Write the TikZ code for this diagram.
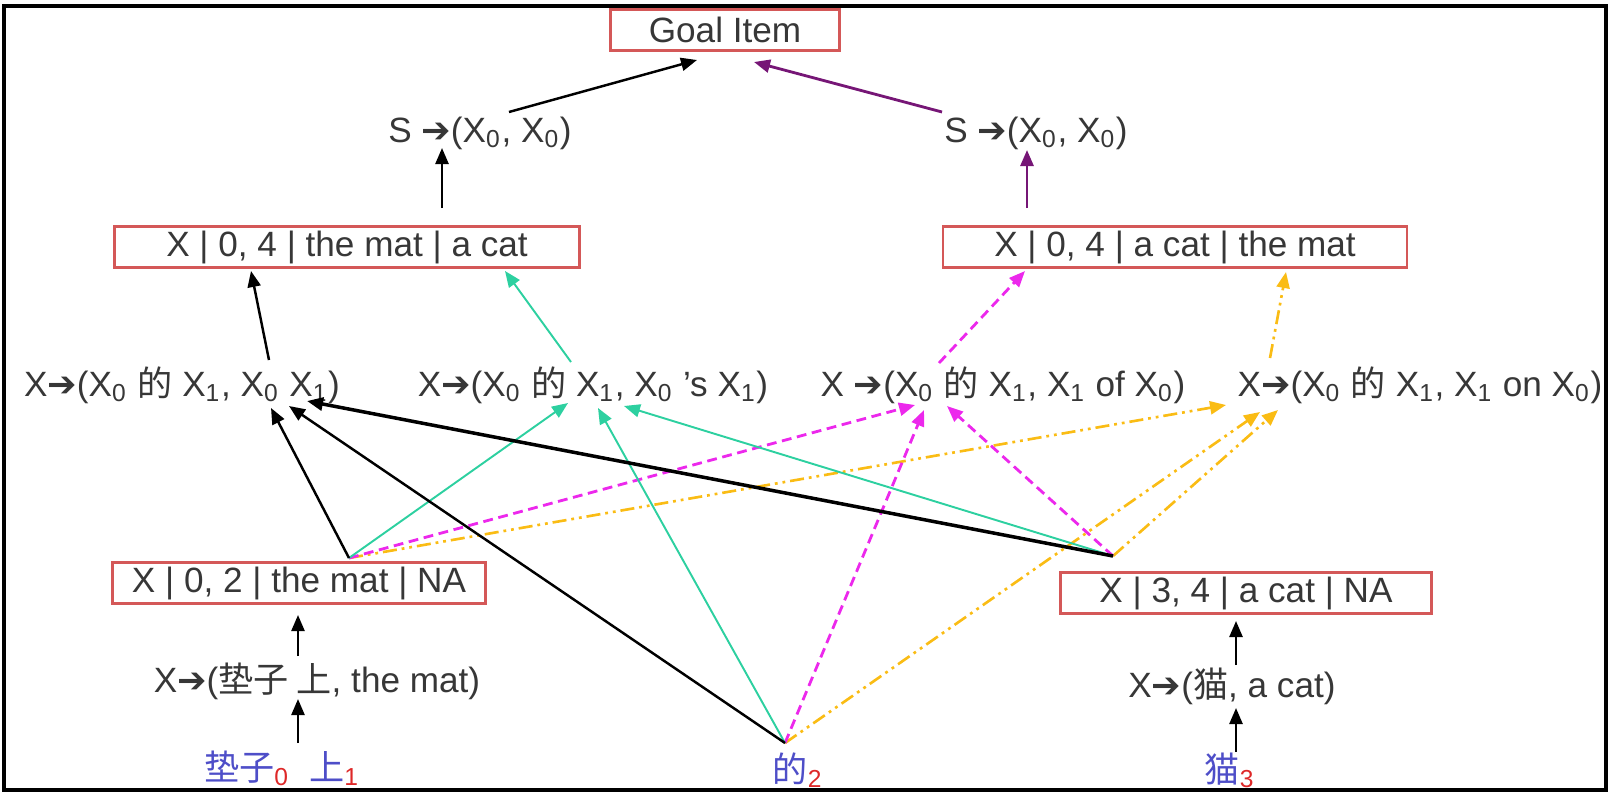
\documentclass[tikz,border=0pt]{standalone}
\usepackage{fontspec}
\setmainfont{Liberation Sans}
\newfontfamily\cjk{Noto Sans CJK SC}
\newfontfamily\djv{DejaVu Sans}
\usetikzlibrary{arrows.meta}

\definecolor{boxred}{RGB}{212,88,88}
\definecolor{txtgray}{RGB}{55,55,55}
\definecolor{mint}{RGB}{45,208,160}
\definecolor{magen}{RGB}{236,40,236}
\definecolor{amber}{RGB}{250,188,20}
\definecolor{plum}{RGB}{118,22,118}
\definecolor{wordblue}{RGB}{78,78,200}
\definecolor{idxred}{RGB}{222,40,40}

\newcommand{\rto}{{\djv ➔}}
\newcommand{\sbs}[1]{\textsubscript{#1}}
\newcommand{\de}{{\cjk 的}}
\newcommand{\srcword}[2]{{\color{wordblue}\cjk #1}\textsubscript{\color{idxred}#2}}

\begin{document}
\begin{tikzpicture}[x=0.1mm,y=-0.1mm,
  txt/.style={text=txtgray,font=\fontsize{10}{12}\selectfont,inner sep=1pt},
  item/.style={txt,draw=boxred,line width=0.6pt,minimum height=4.1mm,inner sep=0pt},
  hd/.style={-{Triangle[length=1.6mm,width=1.3mm]}},
  lk/.style={hd,draw=black,line width=0.7pt},
  lkb/.style={hd,draw=black,line width=1.0pt},
  lt/.style={hd,draw=mint,line width=0.55pt},
  lm/.style={hd,draw=magen,line width=0.8pt,dash pattern=on 2.8pt off 1.6pt},
  ly/.style={hd,draw=amber,line width=0.75pt,dash pattern=on 4pt off 1.4pt on 0.8pt off 1.4pt on 0.8pt off 1.4pt},
  lp/.style={hd,draw=plum,line width=0.8pt}]
  \useasboundingbox (0,0) rectangle (1610,793);
  \draw[line width=0.9pt] (4,6) rectangle (1606,790);
  % ---------- items and rules ----------
  \node[item,minimum width=22.9mm] (goal) at (725,30) {Goal Item};
  \node[txt] (sL) at (480,133) {S \rto(X\sbs{0}, X\sbs{0})};
  \node[txt] (sR) at (1036,133) {S \rto(X\sbs{0}, X\sbs{0})};
  \node[item,minimum width=46.5mm] (b04L) at (347,247) {X | 0, 4 | the mat | a cat};
  \node[item,minimum width=46.4mm] (b04R) at (1175,247) {X | 0, 4 | a cat | the mat};
  \node[txt] (r1) at (182,385) {X\rto(X\sbs{0} \de{} X\sbs{1}, X\sbs{0} X\sbs{1})};
  \node[txt] (r2) at (593,385) {X\rto(X\sbs{0} \de{} X\sbs{1}, X\sbs{0} 's X\sbs{1})};
  \node[txt] (r3) at (1003,385) {X \rto(X\sbs{0} \de{} X\sbs{1}, X\sbs{1} of X\sbs{0})};
  \node[txt] (r4) at (1420,385) {X\rto(X\sbs{0} \de{} X\sbs{1}, X\sbs{1} on X\sbs{0})};
  \node[item,minimum width=37.3mm] (b02) at (299,583) {X | 0, 2 | the mat | NA};
  \node[item,minimum width=37.1mm] (b34) at (1246,593) {X | 3, 4 | a cat | NA};
  \node[txt] (rm) at (317,681) {X\rto({\cjk 垫子 上}, the mat)};
  \node[txt] (rc) at (1232,686) {X\rto({\cjk 猫}, a cat)};
  \node[txt] (w01) at (282,768) {\srcword{垫子}{0}\ \ \srcword{上}{1}};
  \node[txt] (w2) at (798,770) {\srcword{的}{2}};
  \node[txt] (w3) at (1230,770) {\srcword{猫}{3}};
  % ---------- end points ----------
  \coordinate (p02) at (349,558);
  \coordinate (p2) at (785,743);
  \coordinate (p34) at (1113,556);
  \coordinate (h1a) at (271,408); \coordinate (h1b) at (289,406); \coordinate (h1c) at (307,401);
  \coordinate (h2a) at (568,403); \coordinate (h2b) at (598,408); \coordinate (h2c) at (624,406);
  \coordinate (h3a) at (915,405); \coordinate (h3b) at (924,410); \coordinate (h3c) at (947,406);
  \coordinate (h4a) at (1226,405); \coordinate (h4b) at (1260,412); \coordinate (h4c) at (1278,410);
  \coordinate (t1) at (269,360); \coordinate (u1) at (251,271);
  \coordinate (t2) at (571,362); \coordinate (u2) at (505,271);
  \coordinate (t3) at (939,363); \coordinate (u3) at (1025,271);
  \coordinate (t4) at (1270,358); \coordinate (u4) at (1286,272);
  % ---------- bottom chains ----------
  \draw[lk] (298,743) -- (298,699);
  \draw[lk] (298,656) -- (298,615);
  \draw[lk] (1236,752) -- (1236,708);
  \draw[lk] (1236,665) -- (1236,621);
  % ---------- into the rules ----------
  \draw[ly] (p02) -- (h4a);
  \draw[lm] (p02) -- (h3a);
  \draw[lt] (p02) -- (h2a);
  \draw[lk] (p02) -- (h1a);
  \draw[ly] (p2) -- (h4b);
  \draw[lm] (p2) -- (h3b);
  \draw[lt] (p2) -- (h2b);
  \draw[lk] (p2) -- (h1b);
  \draw[ly] (p34) -- (h4c);
  \draw[lm] (p34) -- (h3c);
  \draw[lt] (p34) -- (h2c);
  \draw[lkb] (p34) -- (h1c);
  % ---------- up to the goal ----------
  \draw[lk] (t1) -- (u1);
  \draw[lt] (t2) -- (u2);
  \draw[lm] (t3) -- (u3);
  \draw[ly] (t4) -- (u4);
  \draw[lk] (442,208) -- (442,148);
  \draw[lp] (1027,208) -- (1027,150);
  \draw[lk] (509,112) -- (697,60);
  \draw[lp] (942,112) -- (754,62);
\end{tikzpicture}
\end{document}
